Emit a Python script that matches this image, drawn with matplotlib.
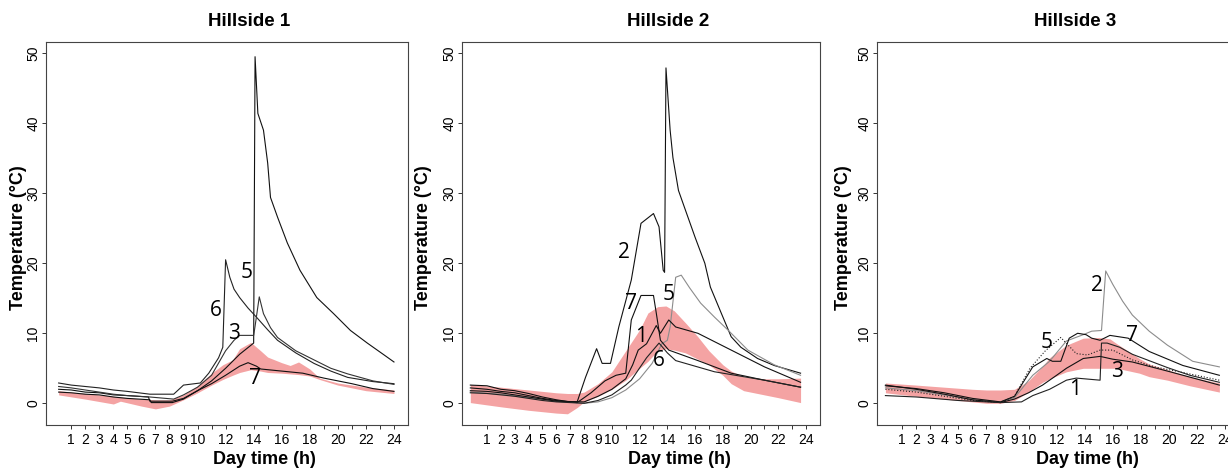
import matplotlib
matplotlib.use('Agg')
import matplotlib.pyplot as plt

# ---- shared axis data ----
x_ticks = list(range(1, 25))
x_tick_labels = ['1', '2', '3', '4', '5', '6', '7', '8', '9', '10',
                 '', '12', '', '14', '', '16', '', '18', '', '20', '', '22', '', '24']
y_ticks = [0, 10, 20, 30, 40, 50]
titles = ['Hillside 1', 'Hillside 2', 'Hillside 3']

# ---- Hillside 1 ----
h1_band_time = [0.1, 2, 4, 4.5, 6, 7, 8, 9, 10, 11, 11.8, 12.5, 13, 13.8, 14.5, 15,
                16, 16.6, 17.2, 18, 18.7, 20, 22, 24]
h1_band_low = [1.2, 0.6, -0.1, 0.3, -0.4, -0.8, -0.4, 0.5, 1.5, 2.6, 3.4, 4.0, 4.4, 4.8,
               4.6, 4.4, 4.3, 4.2, 4.1, 3.9, 3.4, 2.6, 1.8, 1.4]
h1_band_high = [1.8, 1.4, 1.0, 0.9, 0.6, 0.5, 0.5, 1.2, 2.5, 4.3, 5.5, 6.2, 7.8, 8.7,
                7.5, 6.6, 5.8, 5.4, 5.9, 4.9, 3.6, 2.9, 2.3, 1.9]

h1_line5 = [(0.1, 2.0), (1, 1.9), (2, 1.6), (3, 1.5), (4, 1.2), (5, 1.1), (6.5, 0.9),
            (6.6, 0.3), (8.2, 0.3), (9, 0.7), (10, 1.8), (11, 3.2), (12, 5.0), (13, 7.0),
            (14.0, 8.6), (14.1, 49.5), (14.3, 41.4), (14.7, 39.0), (15.0, 34.3),
            (15.2, 29.4), (15.7, 26.6), (16.4, 22.9), (17.3, 19.0), (18.5, 15.1),
            (19.7, 12.8), (20.9, 10.4), (22.1, 8.6), (23.3, 6.9), (24, 5.9)]
h1_line6 = [(0.1, 2.9), (1, 2.6), (2, 2.4), (3, 2.2), (4, 1.9), (5, 1.7), (6.6, 1.3),
            (8.3, 1.3), (9, 2.6), (10.2, 2.9), (10.8, 4.3), (11.5, 6.5), (11.8, 8.0),
            (12.0, 20.5), (12.3, 18.0), (12.6, 16.3), (13.0, 15.1), (13.6, 13.6),
            (14.2, 12.3), (15.0, 10.5), (15.7, 9.0), (17, 7.2), (18.3, 5.7), (19.5, 4.6),
            (20.7, 3.7), (22.5, 3.1), (24, 2.8)]
h1_line3 = [(0.1, 2.4), (1, 2.2), (2, 1.9), (3, 1.6), (4, 1.3), (5, 1.1), (6.6, 0.9),
            (8.3, 0.6), (9, 1.2), (10, 2.3), (11, 4.0), (12, 7.5), (12.6, 9.0),
            (13, 9.7), (14.0, 9.7), (14.1, 11.0), (14.4, 15.2), (14.7, 12.8),
            (15.2, 10.8), (15.7, 9.4), (17, 7.5), (18.3, 6.2), (19.5, 5.0), (20.7, 4.2),
            (22.5, 3.2), (24, 2.7)]
h1_line7 = [(0.1, 1.6), (1, 1.5), (2, 1.3), (3, 1.2), (4, 0.9), (5, 0.7), (6.6, 0.5),
            (6.7, 0.1), (8.2, 0.1), (9, 0.6), (10, 1.8), (11, 2.8), (12, 4.0), (13, 5.3),
            (13.6, 5.8), (14.2, 5.3), (14.5, 4.9), (16, 4.6), (17.5, 4.3), (19, 3.6),
            (21, 2.8), (22.5, 2.1), (24, 1.7)]
h1_labels = [('5', 13.5, 18.7), ('6', 11.3, 13.3), ('3', 12.6, 9.9), ('7', 14.1, 3.6)]

# ---- Hillside 2 ----
h2_band_time = [-0.2, 2, 4, 6, 6.8, 7.5, 8, 9, 10, 11, 12, 12.6, 13.3, 13.9, 14.5, 15.3,
                16.2, 17, 18, 18.6, 19.5, 21, 22, 23.6]
h2_band_low = [0.1, -0.5, -1.0, -1.4, -1.5, -0.6, 0.2, 1.0, 2.0, 3.3, 5.0, 6.0, 7.5, 7.8,
               7.6, 7.2, 6.3, 5.5, 4.0, 2.8, 1.8, 1.2, 0.8, 0.1]
h2_band_high = [2.7, 2.3, 1.9, 1.5, 1.4, 1.4, 1.6, 2.8, 4.5, 7.5, 10.5, 12.9, 13.8, 13.9,
                13.2, 11.5, 9.5, 7.5, 5.5, 4.6, 3.8, 3.5, 3.5, 3.6]

h2_line2 = [(-0.2, 2.6), (1, 2.5), (2, 2.0), (3, 1.8), (4, 1.4), (5, 0.9), (6, 0.5),
            (7, 0.2), (7.5, 0.2), (8.1, 3.7), (8.9, 7.8), (9.3, 5.7), (9.9, 5.7),
            (10.5, 10.9), (11.4, 17.6), (12.1, 25.7), (13.0, 27.1), (13.4, 25.2),
            (13.7, 19.0), (13.8, 18.7), (13.9, 47.9), (14.2, 39.0), (14.4, 35.1),
            (14.8, 30.4), (15.3, 27.6), (16.0, 23.7), (16.7, 20.0), (17.1, 16.6),
            (17.9, 12.8), (18.6, 9.5), (19.3, 8.0), (20.5, 6.4), (21.7, 5.4), (23.6, 4.3)]
h2_line5 = [(-0.2, 1.6), (2, 1.3), (4, 0.8), (6, 0.3), (8, 0.0), (9, 0.2), (10, 0.8),
            (11, 1.9), (12, 3.5), (12.9, 5.7), (13.6, 8.5), (14.0, 9.0), (14.2, 10.9),
            (14.6, 18.0), (15.0, 18.3), (15.6, 16.5), (16.4, 14.3), (17.4, 12.3),
            (18.4, 10.4), (19.8, 7.6), (21.7, 5.5), (23.6, 4.0)]
h2_line7 = [(-0.2, 2.2), (1, 2.0), (2, 1.7), (3, 1.5), (4, 1.1), (5, 0.7), (6, 0.4),
            (7.5, 0.1), (8.5, 1.5), (9.5, 3.2), (10.3, 4.0), (11, 4.3), (11.4, 11.9),
            (12.1, 15.4), (13.0, 15.4), (13.2, 12.9), (13.5, 9.0), (14.1, 7.6),
            (16.2, 6.1), (18.6, 4.3), (21, 3.3), (23.6, 2.3)]
h2_line1 = [(-0.2, 1.8), (1, 1.7), (2, 1.5), (3, 1.2), (4, 0.9), (5, 0.6), (6, 0.3),
            (8, 0.2), (9, 1.0), (10, 2.0), (11, 3.5), (11.5, 5.5), (11.9, 7.6),
            (12.5, 8.5), (13.2, 11.1), (13.5, 10.0), (14.1, 11.9), (14.6, 10.9),
            (16.2, 10.0), (18.6, 7.6), (21, 5.2), (23.6, 3.0)]
h2_line6 = [(-0.2, 1.5), (1, 1.4), (2, 1.2), (3, 1.0), (4, 0.7), (5, 0.4), (6, 0.2),
            (8, 0.0), (9, 0.4), (10, 1.2), (11, 2.6), (11.4, 3.3), (12.5, 6.5),
            (13.4, 8.6), (14.0, 7.2), (14.6, 6.1), (17.4, 4.5), (21, 3.3), (23.6, 2.3)]
h2_labels = [('2', 10.9, 21.6), ('7', 11.4, 14.3), ('5', 14.1, 15.6), ('1', 12.1, 9.6),
             ('6', 13.4, 6.1)]

# ---- Hillside 3 ----
h3_band_time = [-0.2, 2, 4, 6, 7, 8, 9, 10, 11, 11.5, 12.7, 13.9, 15, 15.8, 16.3, 17.9,
                18.6, 19.9, 21.5, 23.6]
h3_band_low = [1.5, 1.0, 0.6, 0.2, 0.0, 0.0, 0.4, 1.6, 3.0, 3.5, 4.5, 5.0, 5.0, 5.0, 5.0,
               4.3, 3.8, 3.3, 2.5, 1.6]
h3_band_high = [2.9, 2.6, 2.3, 2.0, 1.9, 1.9, 2.0, 3.2, 5.3, 6.5, 8.3, 9.3, 9.4, 9.2, 8.5,
                6.4, 5.6, 4.8, 3.8, 2.9]

h3_line2 = [(-0.2, 2.2), (2, 1.8), (4, 1.2), (6, 0.5), (8, 0.2), (9, 0.8), (10.3, 4.0),
            (11.5, 6.0), (12.7, 8.9), (13.9, 9.8), (14.5, 10.3), (15.2, 10.4),
            (15.5, 18.9), (16, 17.0), (16.7, 14.6), (17.4, 12.6), (18.6, 10.3),
            (19.9, 8.3), (21.7, 6.0), (23.6, 5.2)]
h3_line5 = [(-0.2, 2.0), (2, 1.6), (4, 1.0), (6, 0.4), (8, 0.1), (9, 1.0), (10.1, 5.0),
            (11.2, 7.5), (12.3, 9.4), (13.4, 7.1), (14.2, 6.9), (15.1, 7.6), (16, 7.6),
            (17.4, 6.2), (19, 5.2), (21, 4.4), (23.6, 3.3)]
h3_line7 = [(-0.2, 2.5), (2, 2.1), (4, 1.5), (6, 0.7), (8, 0.2), (9, 1.0), (10.3, 5.2),
            (11.3, 6.4), (11.7, 6.0), (12.3, 6.0), (12.9, 9.3), (13.5, 10.0),
            (14.1, 9.8), (14.5, 9.3), (15.1, 9.0), (15.8, 9.7), (17.1, 9.3),
            (18.6, 7.4), (21, 5.4), (23.6, 4.0)]
h3_line3 = [(-0.2, 2.6), (2, 2.0), (4, 1.3), (6, 0.5), (8, 0.1), (9, 0.6), (10, 1.5),
            (11, 2.6), (12, 4.0), (12.7, 5.0), (13.9, 6.4), (15.1, 6.7), (16, 6.3),
            (17.4, 5.9), (19.9, 4.6), (23.6, 2.6)]
h3_line1 = [(-0.2, 1.1), (2, 0.9), (5, 0.4), (8, 0.1), (9.5, 0.2), (10.3, 1.1),
            (11.5, 2.0), (12.7, 3.3), (13.4, 3.6), (15.1, 3.3), (15.2, 8.6), (15.6, 8.6),
            (16.5, 8.0), (17.4, 7.0), (19.9, 5.1), (21.5, 4.0), (23.6, 3.0)]
h3_labels = [('2', 14.9, 16.8), ('5', 11.3, 8.7), ('7', 17.4, 9.7), ('3', 16.3, 4.6),
             ('1', 13.3, 2.0)]

panels = [
    (h1_band_time, h1_band_low, h1_band_high,
     [(h1_line5, '#111111', '-'), (h1_line6, '#222222', '-'),
      (h1_line3, '#333333', '-'), (h1_line7, '#111111', '-')], h1_labels),
    (h2_band_time, h2_band_low, h2_band_high,
     [(h2_line2, '#111111', '-'), (h2_line5, '#8c8c8c', '-'), (h2_line7, '#111111', '-'),
      (h2_line1, '#111111', '-'), (h2_line6, '#222222', '-')], h2_labels),
    (h3_band_time, h3_band_low, h3_band_high,
     [(h3_line2, '#8c8c8c', '-'), (h3_line5, '#222222', ':'), (h3_line7, '#111111', '-'),
      (h3_line3, '#111111', '-'), (h3_line1, '#222222', '-')], h3_labels),
]

# pixel layout of the three panels (left, width) and label positions
axes_left = [46, 462, 877]
axes_width = [362, 358, 362]
ylabel_x = [19, 423, 843]
title_x = [249, 668, 1075]
xlabel_x = [264, 679, 1087]

W, H = 1228, 468
fig = plt.figure(figsize=(W / 100, H / 100), dpi=100)
fig.patch.set_facecolor('white')

for i, (bt, blo, bhi, lines, labels) in enumerate(panels):
    ax = fig.add_axes([axes_left[i] / W, (H - 425) / H, axes_width[i] / W, 383 / H])
    ax.fill_between(bt, blo, bhi, color='#F4A3A3', linewidth=0, zorder=1)
    for pts, col, ls in lines:
        ax.plot([p[0] for p in pts], [p[1] for p in pts], color=col, linestyle=ls,
                linewidth=0.8, zorder=2)
    for txt, lx, ly in labels:
        ax.text(lx, ly, txt, fontsize=15, family='Open Sans', ha='center', va='center',
                zorder=3)

    ax.set_xlim(-0.8, 25.0)
    ax.set_ylim(-3.1, 51.6)
    ax.set_xticks(x_ticks)
    ax.set_xticklabels(x_tick_labels, fontsize=10, family='Liberation Sans')
    ax.set_yticks(y_ticks)
    ax.set_yticklabels([str(v) for v in y_ticks], rotation=90, va='center',
                       fontsize=10, family='Liberation Sans')
    ax.tick_params(axis='x', length=3, width=0.7, pad=3, color='#333333')
    ax.tick_params(axis='y', length=3, width=0.7, pad=1, color='#333333')
    for sp in ax.spines.values():
        sp.set_linewidth(0.8)
        sp.set_color('#444444')

    fig.text(title_x[i] / W, 1 - 21 / H, titles[i], fontsize=13.5, fontweight='bold',
             family='Liberation Sans', ha='center', va='center')
    fig.text(xlabel_x[i] / W, 1 - 459 / H, 'Day time (h)', fontsize=13, fontweight='bold',
             family='Liberation Sans', ha='center', va='center')
    fig.text(ylabel_x[i] / W, 1 - 238 / H, 'Temperature (°C)', fontsize=13,
             fontweight='bold', family='Liberation Sans', rotation=90,
             ha='center', va='center')

fig.savefig('out.png', dpi=100, facecolor='white')
